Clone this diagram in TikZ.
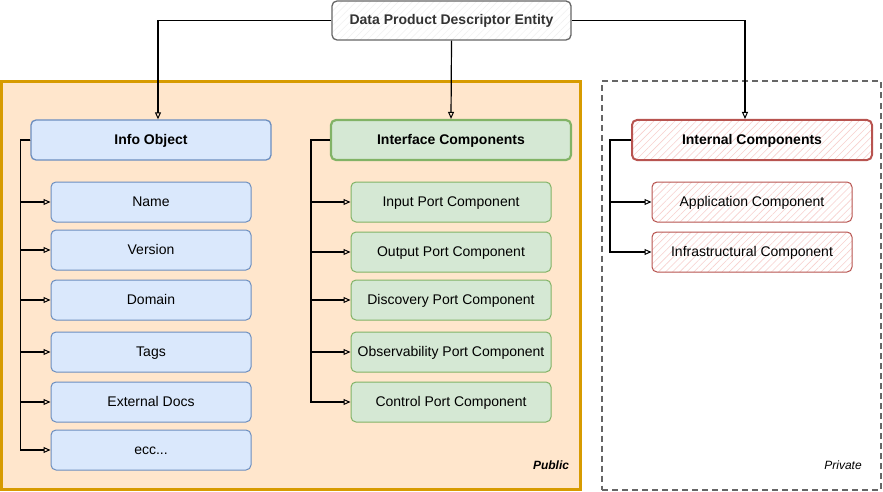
\documentclass[tikz,border=0pt]{standalone}
\usepackage{fontspec}
\setmainfont{Liberation Sans}
\usetikzlibrary{arrows.meta,patterns.meta}
\definecolor{pubfill}{HTML}{FFE6CC}
\definecolor{pubdraw}{HTML}{D79B00}
\definecolor{privdraw}{HTML}{666666}
\definecolor{bluefill}{HTML}{DAE8FC}
\definecolor{bluedraw}{HTML}{6C8EBF}
\definecolor{greenfill}{HTML}{D5E8D4}
\definecolor{greendraw}{HTML}{82B366}
\definecolor{reddraw}{HTML}{B85450}
\definecolor{redhatch}{HTML}{F8D0CE}
\definecolor{txtgray}{HTML}{333333}
\definecolor{greyhatch}{HTML}{F0F0F0}
\tikzset{
  basebox/.style={rounded corners=5pt, minimum height=40pt, inner sep=0pt, text=black,
    text height=10pt, text depth=2pt, font=\fontsize{14}{17}\selectfont},
  bigbox/.style={basebox, minimum width=240pt, font=\fontsize{14}{17}\selectfont\bfseries},
  smallbox/.style={basebox, minimum width=200pt},
  bluebig/.style={bigbox, fill=bluefill, draw=bluedraw, line width=1.3pt},
  bluesmall/.style={smallbox, fill=bluefill, draw=bluedraw, line width=1pt},
  greenbig/.style={bigbox, fill=greenfill, draw=greendraw, line width=2.2pt},
  greensmall/.style={smallbox, fill=greenfill, draw=greendraw, line width=1pt},
  redbig/.style={bigbox, preaction={fill=white}, pattern={Lines[angle=45,distance=5pt,line width=0.6pt]}, pattern color=redhatch, draw=reddraw, line width=2pt},
  redsmall/.style={smallbox, preaction={fill=white}, pattern={Lines[angle=45,distance=5pt,line width=0.6pt]}, pattern color=redhatch, draw=reddraw, line width=1pt},
  conn/.style={draw=black, line width=1.2pt, -{Triangle[open,length=7pt,width=6pt,line width=1pt]}},
}
\begin{document}
\begin{tikzpicture}[x=1pt,y=-1pt]
\useasboundingbox (0,0) rectangle (883,492);
% containers
\node[draw=pubdraw, fill=pubfill, line width=3pt, minimum width=579pt, minimum height=408pt, inner sep=0pt] (public) at (291,285.5) {};
\node[draw=privdraw, dashed, dash pattern=on 6pt off 4pt, line width=2pt, minimum width=279pt, minimum height=408pt, inner sep=0pt] (private) at (741.5,285.5) {};
\node[font=\fontsize{12}{14}\selectfont\bfseries\itshape] (publbl) at (551,465) {Public};
\node[font=\fontsize{12}{14}\selectfont\itshape] (privlbl) at (843,465) {Private};
% top
\node[basebox, minimum width=239pt, minimum height=39pt, preaction={fill=white}, pattern={Lines[angle=45,distance=5pt,line width=0.5pt]}, pattern color=greyhatch, draw=privdraw, line width=1.3pt, text=txtgray, font=\fontsize{14}{17}\selectfont\bfseries] (top) at (451.5,20.5) {Data Product Descriptor Entity};
% columns headers
\node[bluebig] (info) at (151,140) {Info Object};
\node[greenbig] (iface) at (451,140) {Interface Components};
\node[redbig] (internal) at (752,140) {Internal Components};
% info children
\node[bluesmall] (name) at (151,202) {Name};
\node[bluesmall] (version) at (151,250) {Version};
\node[bluesmall] (domain) at (151,300) {Domain};
\node[bluesmall] (tags) at (151,352) {Tags};
\node[bluesmall] (extdocs) at (151,402) {External Docs};
\node[bluesmall] (ecc) at (151,450) {ecc...};
% interface children
\node[greensmall] (input) at (451,202) {Input Port Component};
\node[greensmall] (output) at (451,252) {Output Port Component};
\node[greensmall] (discovery) at (451,300) {Discovery Port Component};
\node[greensmall] (observ) at (451,352) {Observability Port Component};
\node[greensmall] (control) at (451,402) {Control Port Component};
% internal children
\node[redsmall] (app) at (752,202) {Application Component};
\node[redsmall] (infra) at (752,252) {Infrastructural Component};
% top connectors
\draw[conn] (top.west) -| ([xshift=7pt]info.north);
\draw[conn] (top.south) -- (iface.north);
\draw[conn] (top.east) -| ([xshift=-7pt]internal.north);
% tree connectors
\foreach \c in {name,version,domain,tags,extdocs,ecc}
  \draw[conn] (info.west) -- ++(-10,0) |- (\c.west);
\foreach \c in {input,output,discovery,observ,control}
  \draw[conn] (iface.west) -- ++(-19,0) |- (\c.west);
\foreach \c in {app,infra}
  \draw[conn] (internal.west) -- ++(-21,0) |- (\c.west);
\end{tikzpicture}
\end{document}
